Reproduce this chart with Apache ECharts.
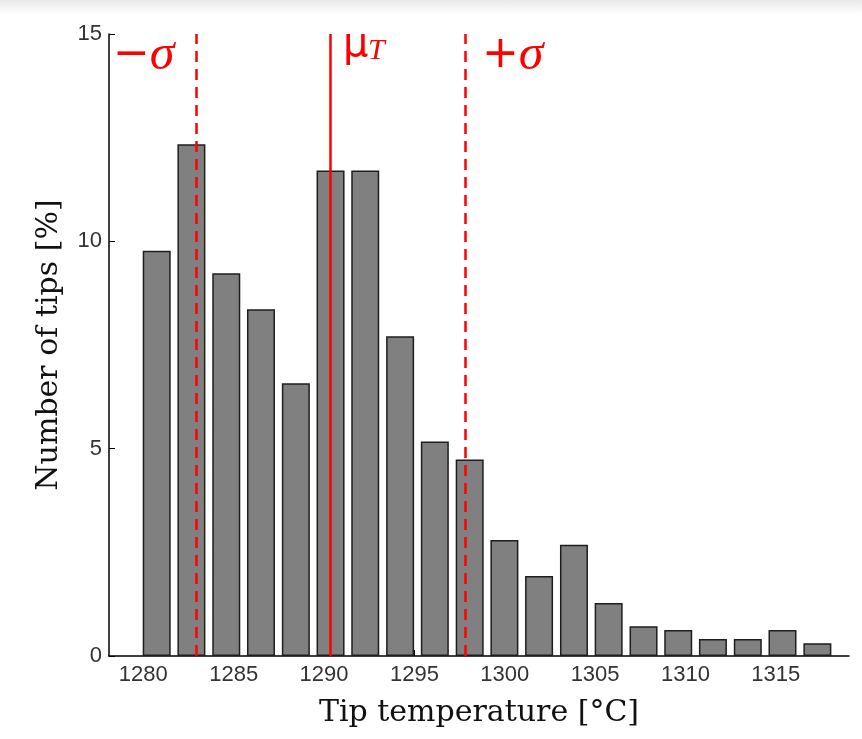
<!DOCTYPE html>
<html lang="en">
<head>
    <meta charset="utf-8">
    <title>Tip temperature histogram</title>
    <script src="https://cdn.jsdelivr.net/npm/echarts@6/dist/echarts.min.js"></script>
    <style>
        html, body { margin: 0; padding: 0; }
        body { background: linear-gradient(to bottom, #e9e9e9 0px, #ffffff 14px); }
        #main { width: 862px; height: 739px; }
    </style>
</head>
<body>
    <div id="main"></div>
    <script>
        // bin centres (°C) and share of tips in each bin (%)
        var binCenters = [1280.74, 1282.66, 1284.59, 1286.51, 1288.44, 1290.36, 1292.28, 1294.21, 1296.13, 1298.06,
                          1299.98, 1301.90, 1303.83, 1305.75, 1307.68, 1309.60, 1311.52, 1313.45, 1315.37, 1317.30];
        var percent = [9.77, 12.34, 9.23, 8.36, 6.58, 11.71, 11.71, 7.71, 5.17, 4.74,
                       2.80, 1.93, 2.68, 1.28, 0.72, 0.63, 0.41, 0.41, 0.63, 0.31];
        var xTicks = [1280, 1285, 1290, 1295, 1300, 1305, 1310, 1315];
        // mean and +/- one sigma
        var muT = 1290.32;
        var minusSigma = 1282.92;
        var plusSigma = 1297.83;

        var chart = echarts.init(document.getElementById('main'));

        var barData = binCenters.map(function (c, i) { return [c, percent[i]]; });

        var red = '#ff0000';
        var option = {
            backgroundColor: 'transparent',
            animation: false,
            grid: { left: 109, right: 13, top: 34, bottom: 83 },
            xAxis: {
                type: 'value',
                min: 1278.1,
                max: 1319.05,
                name: 'Tip temperature [°C]',
                nameLocation: 'middle',
                nameGap: 42,
                nameTextStyle: { fontFamily: 'DejaVu Serif', fontSize: 30, color: '#111' },
                axisLine: { lineStyle: { color: '#000', width: 1.5 } },
                axisTick: { inside: true, length: 6, customValues: xTicks, lineStyle: { color: '#000' } },
                axisLabel: {
                    customValues: xTicks, margin: 8, fontFamily: 'Liberation Sans', fontSize: 22, color: '#333',
                    formatter: function (v) { return String(v); }
                },
                splitLine: { show: false }
            },
            yAxis: {
                type: 'value',
                min: 0,
                max: 15,
                interval: 5,
                name: 'Number of tips [%]',
                nameLocation: 'middle',
                nameGap: 45,
                nameTextStyle: { fontFamily: 'DejaVu Serif', fontSize: 30, color: '#111' },
                axisLine: { show: true, lineStyle: { color: '#000', width: 1.5 } },
                axisTick: { show: true, inside: true, length: 6, lineStyle: { color: '#000' } },
                axisLabel: { margin: 7, fontFamily: 'Liberation Sans', fontSize: 22, color: '#333' },
                splitLine: { show: false }
            },
            series: [{
                type: 'bar',
                data: barData,
                barWidth: 28,
                itemStyle: { color: '#808080', borderColor: '#1e1e1e', borderWidth: 1.5 },
                markLine: {
                    silent: true,
                    symbol: ['none', 'none'],
                    label: { show: false },
                    data: [
                        { xAxis: minusSigma, lineStyle: { color: red, width: 2.5, type: [11, 7] } },
                        { xAxis: muT, lineStyle: { color: red, width: 2.5, type: 'solid' } },
                        { xAxis: plusSigma, lineStyle: { color: red, width: 2.5, type: [11, 7] } }
                    ]
                }
            }],
            graphic: [
                {
                    type: 'text', x: 113, y: 56,
                    style: {
                        text: '{a|−}{b|σ}',
                        verticalAlign: 'middle',
                        rich: {
                            a: { fontFamily: 'DejaVu Sans', fontSize: 44, fill: red },
                            b: { fontFamily: 'Liberation Serif', fontStyle: 'italic', fontSize: 50, fill: red }
                        }
                    }
                },
                {
                    type: 'text', x: 482, y: 56,
                    style: {
                        text: '{a|+}{b|σ}',
                        verticalAlign: 'middle',
                        rich: {
                            a: { fontFamily: 'DejaVu Sans', fontSize: 44, fill: red },
                            b: { fontFamily: 'Liberation Serif', fontStyle: 'italic', fontSize: 50, fill: red }
                        }
                    }
                },
                {
                    type: 'text', x: 343, y: 46,
                    style: { text: 'μ', fontFamily: 'DejaVu Sans', fontSize: 40, fill: red, verticalAlign: 'middle' }
                },
                {
                    type: 'text', x: 368, y: 66,
                    style: { text: 'T', fontFamily: 'Liberation Serif', fontStyle: 'italic', fontSize: 30, fill: red, verticalAlign: 'bottom' }
                }
            ]
        };

        chart.setOption(option, true);
    </script>
</body>
</html>
